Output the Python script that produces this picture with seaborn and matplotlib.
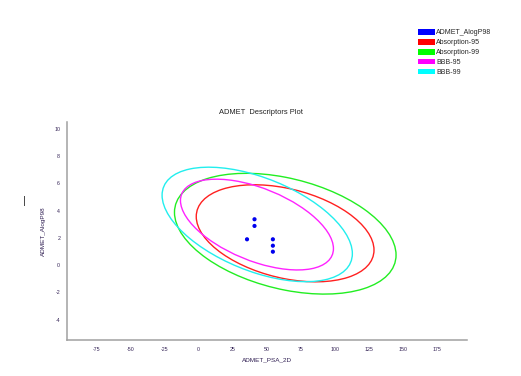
import numpy as np
import pandas as pd
import seaborn as sns
from matplotlib import pyplot as plt
from matplotlib.patches import Ellipse, Patch
from matplotlib.transforms import Affine2D

sns.set_style("white")
plt.rcParams['font.family'] = ['Liberation Sans', 'DejaVu Sans']
plt.rcParams['axes.unicode_minus'] = False

# compound points (PSA_2D, AlogP98)
psa = [41.0, 41.0, 35.5, 54.5, 54.5, 54.5]
alogp = [3.36, 2.87, 1.89, 1.89, 1.42, 0.98]

# confidence ellipses: centre, x half-width, y half-height, cos of phase (tilt)
ell_names = ['Absorption-95', 'Absorption-99', 'BBB-95', 'BBB-99']
ell_cx = [63.5, 63.6, 42.8, 43.0]
ell_cy = [2.33, 2.30, 2.97, 2.98]
ell_ax = [65.3, 81.4, 56.2, 69.9]
ell_by = [3.56, 4.43, 3.33, 4.20]
ell_cos = [-0.345, -0.353, -0.53, -0.51]
ell_colors = ['#ff2020', '#22ee22', '#ff22ff', '#22eeee']

legend_labels = ['ADMET_AlogP98'] + ell_names
legend_colors = ['#0000ff', '#ff0000', '#00ff00', '#ff00ff', '#00ffff']

xticks = [-75, -50, -25, 0, 25, 50, 75, 100, 125, 150, 175]
yticks = [-4, -2, 0, 2, 4, 6, 8, 10]

fig = plt.figure(figsize=(5.21, 3.76), dpi=100)
ax = fig.add_axes([0.128, 0.0957, 0.768, 0.58])

for cx, cy, a, b, c, col in zip(ell_cx, ell_cy, ell_ax, ell_by, ell_cos, ell_colors):
    s = np.sqrt(1 - c ** 2)
    tr = Affine2D(np.array([[a, 0, cx], [b * c, b * s, cy], [0, 0, 1]])) + ax.transData
    ax.add_patch(Ellipse((0, 0), 2, 2, transform=tr, fill=False, edgecolor=col, lw=1.0))

df = pd.DataFrame({'ADMET_PSA_2D': psa, 'ADMET_AlogP98': alogp})
sns.scatterplot(data=df, x='ADMET_PSA_2D', y='ADMET_AlogP98', ax=ax,
                color='#0000ee', s=9, edgecolor='none', zorder=5)

ax.set_xlim(-97, 197)
ax.set_ylim(-5.5, 10.5)
ax.set_xticks(xticks)
ax.set_yticks(yticks)
ax.tick_params(direction='inout', length=3.5, width=0.8, color='#222244',
               labelsize=3.8, labelcolor='#332255', pad=3)
for sp in ['top', 'right']:
    ax.spines[sp].set_visible(False)
for sp in ['left', 'bottom']:
    ax.spines[sp].set_color('#a0a0a0')
    ax.spines[sp].set_linewidth(1.1)

ax.set_xlabel('ADMET_PSA_2D', fontsize=4.6, color='#332255', labelpad=4)
ax.set_ylabel('ADMET_AlogP98', fontsize=4.6, color='#332255', labelpad=6)
fig.text(0.5, 1 - 113 / 376, 'ADMET  Descriptors Plot', ha='center', va='center',
         fontsize=5.4, color='#222222')

handles = [Patch(facecolor=c, edgecolor='none') for c in legend_colors]
fig.legend(handles, legend_labels, loc='upper left', bbox_to_anchor=(0.797, 0.93),
           frameon=False, fontsize=5.0, handlelength=2.4, handleheight=0.85,
           labelspacing=0.4, handletextpad=0.25, borderaxespad=0)

# stray cursor mark at left of the capture
fig.text(24.5 / 521, 1 - 201 / 376, '|', ha='center', va='center', fontsize=8, color='#333333')

fig.savefig('out.png', dpi=100)
